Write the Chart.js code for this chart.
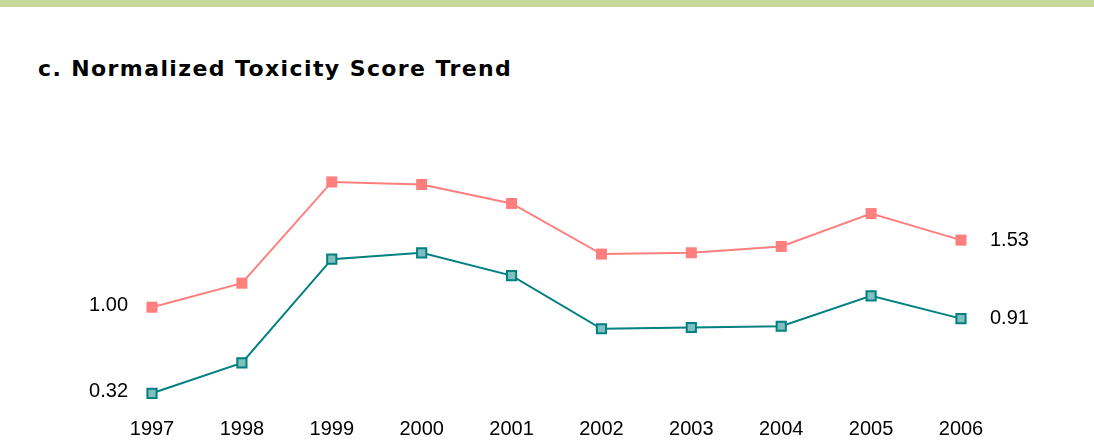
<!DOCTYPE html>
<html>
<head>
    <meta charset="utf-8" />
    <title>Normalized Toxicity Score Trend</title>
    <script src="https://cdn.jsdelivr.net/npm/chart.js"></script>
    <style>
        body {
            margin: 0;
            background: #fff;
        }

        .wrap {
            position: relative;
            width: 1094px;
            height: 441px;
            overflow: hidden;
        }

        .band {
            position: absolute;
            left: 0;
            top: 0;
            width: 1094px;
            height: 7px;
            background: #c6d99b;
        }

        .title {
            position: absolute;
            left: 38px;
            top: 56px;
            font-family: "DejaVu Sans", Verdana, sans-serif;
            font-weight: bold;
            font-size: 22px;
            letter-spacing: 1.4px;
            color: #000;
            white-space: nowrap;
        }

        canvas {
            position: absolute;
            left: 0;
            top: 0;
        }
    </style>
</head>
<body>
    <div class="wrap">
        <div class="band"></div>
        <div class="title">c. Normalized Toxicity Score Trend</div>
        <canvas id="trendChart" width="1094" height="441"></canvas>
    </div>

<script>
    // data
    const years = ['1997', '1998', '1999', '2000', '2001', '2002', '2003', '2004', '2005', '2006']
    const upperScores = [1.00, 1.19, 1.99, 1.97, 1.82, 1.42, 1.43, 1.48, 1.74, 1.53]
    const lowerScores = [0.32, 0.56, 1.38, 1.43, 1.25, 0.83, 0.84, 0.85, 1.09, 0.91]

    // first / last value written next to each line
    const endLabels = {
        id: 'endLabels',
        afterDatasetsDraw(chart) {
            const ctx = chart.ctx
            ctx.save()
            ctx.font = '20px "Liberation Sans", Arial, sans-serif'
            ctx.fillStyle = '#000'
            ctx.textBaseline = 'middle'
            chart.data.datasets.forEach((ds, i) => {
                const pts = chart.getDatasetMeta(i).data
                const first = pts[0]
                const last = pts[pts.length - 1]
                ctx.textAlign = 'right'
                ctx.fillText(ds.data[0].toFixed(2), first.x - 24, first.y - 2)
                ctx.textAlign = 'left'
                ctx.fillText(ds.data[ds.data.length - 1].toFixed(2), last.x + 29, last.y)
            })
            ctx.restore()
        }
    }

    new Chart(document.getElementById('trendChart'), {
        type: 'line',
        data: {
            labels: years,
            datasets: [{
                data: upperScores,
                borderColor: '#ff7f7f',
                borderWidth: 2,
                pointStyle: 'rect',
                pointRadius: 7.8,
                pointBackgroundColor: '#ff7f7f',
                pointBorderColor: '#ff7f7f',
                pointBorderWidth: 0,
                tension: 0,
                clip: false
            }, {
                data: lowerScores,
                borderColor: '#008080',
                borderWidth: 2,
                pointStyle: 'rect',
                pointRadius: 6.5,
                pointBackgroundColor: '#7fbfbf',
                pointBorderColor: '#008080',
                pointBorderWidth: 2,
                tension: 0,
                clip: false
            }]
        },
        options: {
            responsive: false,
            animation: false,
            layout: {
                padding: { left: 152, right: 133, top: 168, bottom: 0 }
            },
            plugins: {
                legend: { display: false },
                tooltip: { enabled: false }
            },
            scales: {
                x: {
                    offset: false,
                    grid: { display: false, drawTicks: false },
                    border: { display: false },
                    ticks: {
                        color: '#000',
                        font: { family: '"Liberation Sans", Arial, sans-serif', size: 20 },
                        padding: 9,
                        autoSkip: false,
                        maxRotation: 0
                    },
                    afterFit: s => { s.height = 32.5 }
                },
                y: {
                    display: false,
                    min: 0.2,
                    max: 2.1
                }
            }
        },
        plugins: [endLabels]
    })
</script>
</body>
</html>
